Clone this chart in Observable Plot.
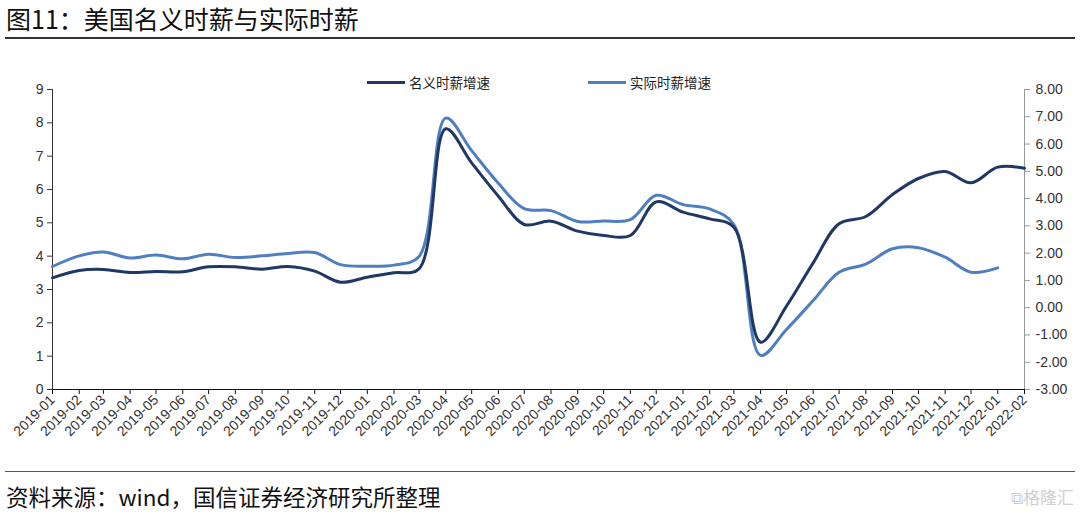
<!DOCTYPE html>
<html>
<head>
<meta charset="utf-8">
<script src="https://cdn.jsdelivr.net/npm/d3@7"></script>
<script src="https://cdn.jsdelivr.net/npm/@observablehq/plot@0.6"></script>
<style>
  html, body { margin: 0; padding: 0; background: #fff; }
  #page { position: relative; width: 1080px; height: 517px; overflow: hidden; font-family: "Noto Sans CJK SC", "Noto Sans", sans-serif; }
  #title { position: absolute; left: 6px; top: 1px; font-size: 25px; line-height: 34px; color: #111; }
  .hr { position: absolute; left: 5px; width: 1070px; background: #333; }
  #chart { position: absolute; left: 0; top: 45px; }
  #legend { position: absolute; top: 72px; left: 0; width: 1080px; height: 20px; font-size: 13.5px; color: #222; }
  .lg { position: absolute; display: flex; align-items: center; }
  .lg .sw { display: inline-block; width: 38px; height: 3px; margin-right: 4px; }
  #footer { position: absolute; left: 6px; top: 480px; font-size: 22.5px; line-height: 32px; color: #111; font-family: "Noto Sans CJK SC", "DejaVu Sans Mono", monospace; }
  #wm { position: absolute; right: 6px; top: 484px; font-size: 17px; color: #cfcfcf; font-family: "Noto Sans CJK SC", sans-serif; }
</style>
</head>
<body>
<div id="page">
  <div id="title">图11：美国名义时薪与实际时薪</div>
  <div class="hr" style="top:37px;height:1.5px;"></div>
  <div id="chart"></div>
  <div id="legend"></div>
  <div class="hr" style="top:471px;height:1px;background:#555;"></div>
  <div id="footer">资料来源：wind，国信证券经济研究所整理</div>
  <div id="wm">⧉格隆汇</div>
</div>
<script>
const months = ["2019-01","2019-02","2019-03","2019-04","2019-05","2019-06","2019-07","2019-08","2019-09","2019-10","2019-11","2019-12",
  "2020-01","2020-02","2020-03","2020-04","2020-05","2020-06","2020-07","2020-08","2020-09","2020-10","2020-11","2020-12",
  "2021-01","2021-02","2021-03","2021-04","2021-05","2021-06","2021-07","2021-08","2021-09","2021-10","2021-11","2021-12",
  "2022-01","2022-02"];
// 名义时薪增速 (left axis)
const nominal = [3.35,3.57,3.60,3.51,3.54,3.53,3.68,3.68,3.61,3.69,3.55,3.22,
  3.37,3.50,3.62,7.82,6.80,5.80,4.95,5.05,4.75,4.62,4.62,5.63,
  5.32,5.12,4.87,1.42,2.50,3.80,4.97,5.19,5.85,6.33,6.54,6.20,
  6.67,6.64];
// 实际时薪增速 (right axis)
const real = [1.51,1.90,2.04,1.82,1.93,1.79,1.96,1.84,1.90,1.99,2.02,1.58,
  1.52,1.56,1.88,6.95,5.76,4.56,3.63,3.56,3.16,3.18,3.23,4.12,
  3.78,3.62,3.05,-1.75,-0.80,0.26,1.30,1.60,2.16,2.20,1.85,1.30,
  1.46,null];
const seriesNames = ["名义时薪增速","实际时薪增速"];
const colors = ["#1F3864","#4F7FC0"];
const leftTicks = [0,1,2,3,4,5,6,7,8,9];
const rightTicks = [-3,-2,-1,0,1,2,3,4,5,6,7,8];

const parse = d3.utcParse("%Y-%m");
const fmt = d3.utcFormat("%Y-%m");
const dates = months.map(parse);
const leftDomain = [0, 9];
const rightDomain = [-3, 8];
const toLeft = r => leftDomain[0] + (r - rightDomain[0]) * (leftDomain[1]-leftDomain[0]) / (rightDomain[1]-rightDomain[0]);
const fromLeft = v => rightDomain[0] + (v - leftDomain[0]) * (rightDomain[1]-rightDomain[0]) / (leftDomain[1]-leftDomain[0]);

const nomData = months.map((m,i) => ({date: dates[i], v: nominal[i]}));
const realData = months.map((m,i) => ({date: dates[i], v: real[i]})).filter(d => d.v != null);

const chart = Plot.plot({
  width: 1080,
  height: 400,
  marginLeft: 52,
  marginRight: 56,
  marginTop: 44,
  marginBottom: 56,
  style: {fontFamily: "'Liberation Sans', Arial, sans-serif", fontSize: "13px", color: "#333", background: "transparent", overflow: "visible"},
  x: {type: "utc", domain: [dates[0], dates[dates.length-1]]},
  y: {domain: leftDomain},
  marks: [
    Plot.axisY({ticks: leftTicks, tickSize: 5, tickPadding: 4, tickFormat: d => String(d), label: null, fontSize: 14, stroke: "#333"}),
    Plot.axisY({anchor: "right", ticks: rightTicks.map(toLeft), tickSize: 5, tickPadding: 6, label: null, fontSize: 14,
      stroke: "#999", tickFormat: d => Math.round(fromLeft(d)).toFixed(2)}),
    Plot.ruleX([dates[dates.length-1]], {stroke: "#999", strokeWidth: 1}),
    Plot.ruleX([dates[0]], {stroke: "#333", strokeWidth: 1}),
    Plot.axisX({ticks: dates, tickFormat: fmt, tickRotate: -45, tickSize: 5, tickPadding: 3, label: null, fontSize: 14, stroke: "#111"}),
    Plot.ruleY([0], {stroke: "#111", strokeWidth: 1.2}),
    Plot.line(realData, {x: "date", y: d => toLeft(d.v), stroke: colors[1], strokeWidth: 3, curve: "catmull-rom"}),
    Plot.line(nomData, {x: "date", y: "v", stroke: colors[0], strokeWidth: 3, curve: "catmull-rom"})
  ]
});
document.getElementById("chart").appendChild(chart);

// legend
const legend = document.getElementById("legend");
const lgPos = [367, 588];
seriesNames.forEach((name, i) => {
  const el = document.createElement("div");
  el.className = "lg";
  el.style.left = lgPos[i] + "px";
  el.innerHTML = `<span class="sw" style="background:${colors[i]}"></span><span>${name}</span>`;
  legend.appendChild(el);
});
</script>
</body>
</html>
